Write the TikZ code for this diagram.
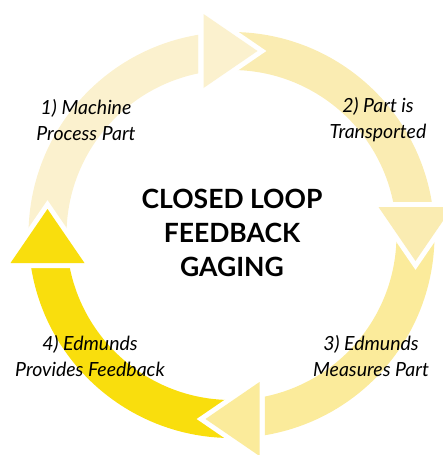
\documentclass[tikz,border=0pt]{standalone}
\usepackage{fontspec}
\setmainfont{Lato}
\usetikzlibrary{positioning}
\definecolor{stepA}{RGB}{251,241,206}
\definecolor{stepB}{RGB}{250,236,178}
\definecolor{stepC}{RGB}{251,235,155}
\definecolor{stepD}{RGB}{249,222,13}

\begin{document}
\begin{tikzpicture}
[x=1pt,y=1pt,
 every node/.style={inner sep=0pt,outer sep=0pt},
 lbl/.style={align=center,font=\fontsize{19.5}{26}\selectfont\itshape},
 ttl/.style={align=center,font=\fontsize{26.5}{34}\selectfont\bfseries},
 hd/.style={preaction={draw=white,line width=10pt}}]
\useasboundingbox (0,0) rectangle (442,-455);
\coordinate (C) at (231.5,-235);
% arc bodies, clockwise
\foreach \a/\c in {180/stepA,90/stepB,0/stepC,-90/stepD}
  \fill[\c] ([shift={(C)}]\a:203pt) arc[start angle=\a,end angle=\a-80.64,radius=203pt]
    -- ([shift={(C)}]\a-78.46:165pt) arc[start angle=\a-78.46,end angle=\a,radius=165pt] -- cycle;
% heads on top
\foreach \a/\c in {90/stepA,0/stepB,-90/stepC,180/stepD}
  \fill[\c,hd,shift={(C)},rotate=\a-90] (-28,147) -- (26,184) -- (-28,221) -- cycle;

\node[ttl] (gage) at (232,-233) {CLOSED LOOP\\FEEDBACK\\GAGING};
\node[lbl] (s1) [on grid,above left=113pt and 146pt of gage]  {1) Machine\\Process Part};
\node[lbl] (s2) [on grid,above right=113pt and 146pt of gage] {2) Part is\\Transported};
\node[lbl] (s3) [on grid,below right=123pt and 139pt of gage] {3) Edmunds\\Measures Part};
\node[lbl] (s4) [on grid,below left=123pt and 142pt of gage]  {4) Edmunds\\Provides Feedback};
\end{tikzpicture}
\end{document}
